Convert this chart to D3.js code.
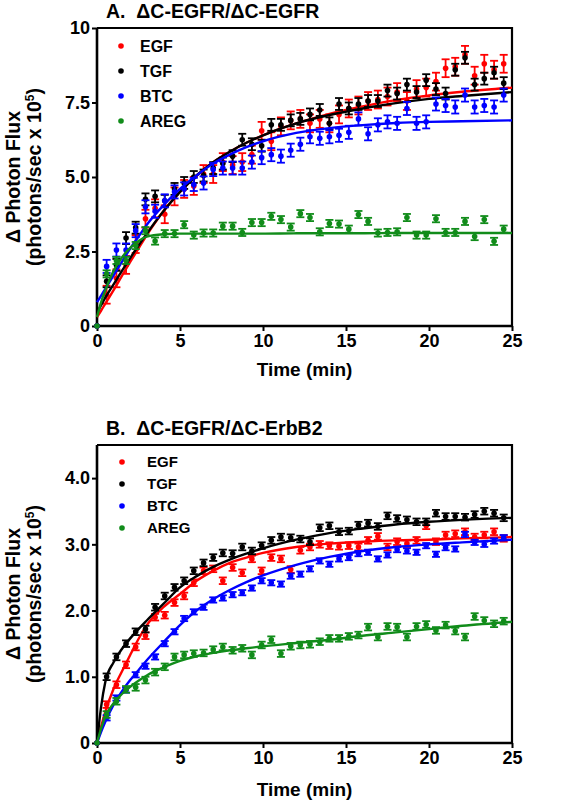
<!DOCTYPE html>
<html><head><meta charset="utf-8">
<script src="https://cdn.jsdelivr.net/npm/d3@7"></script>
<style>
body{margin:0;background:#fff}
text{font-family:"Liberation Sans",Arial,sans-serif;font-weight:bold;fill:#000}
</style>
</head><body><svg id="c" width="566" height="802"></svg>
<script>
// ---------- data ----------
const seriesNames = ["EGF","TGF","BTC","AREG"];
const seriesColors = ["#ff0000","#000000","#0000ff","#118c1a"];
const times = [0,0.58,1.17,1.75,2.33,2.92,3.5,4.08,4.67,5.25,5.83,6.42,7.0,7.58,8.17,8.75,9.33,9.92,10.5,11.08,11.67,12.25,12.83,13.42,14.0,14.58,15.17,15.75,16.33,16.92,17.5,18.08,18.67,19.25,19.83,20.42,21.0,21.58,22.17,22.75,23.33,23.92,24.5];
const xTicks = [0,5,10,15,20,25];
const xTickLabels = ["0","5","10","15","20","25"];

// Panel A
const egfA  = [0,1.05,1.6,2.05,2.75,3.6,3.95,3.75,4.35,4.6,4.7,5.1,5.1,5.5,5.4,5.5,5.75,6.55,6.2,6.7,6.9,6.95,6.8,6.95,6.8,7.1,7.3,7.4,7.55,7.6,7.7,7.85,7.55,7.95,8.0,8.2,8.65,8.7,9.1,8.4,8.8,8.6,8.8];
const tgfA  = [0,1.5,2.05,2.95,3.3,4.25,4.35,4.2,4.6,4.8,5.0,5.05,5.3,5.45,5.7,6.25,6.1,6.05,6.75,6.75,6.9,6.95,7.1,7.25,6.8,7.45,7.3,7.45,7.55,7.55,7.9,7.8,8.1,7.85,8.25,7.95,7.8,8.6,9.0,8.1,8.3,8.5,8.15];
const btcA  = [0,2.0,2.55,2.55,3.2,4.0,3.85,4.2,4.5,4.6,4.75,4.8,5.25,5.3,5.3,5.3,5.5,5.65,5.75,5.7,5.9,6.1,6.35,6.3,6.35,6.4,6.5,6.95,6.45,6.75,6.85,6.8,7.3,6.8,6.85,7.45,7.4,7.35,7.75,7.35,7.4,7.35,7.75];
const aregA = [0,1.75,2.2,2.2,2.7,3.2,2.85,3.1,3.1,3.4,3.05,3.12,3.12,3.35,3.35,3.14,3.47,3.47,3.68,3.57,3.32,3.77,3.64,3.16,3.44,3.42,3.25,3.74,3.51,3.12,3.14,3.16,3.64,3.05,3.05,3.6,3.14,3.14,3.51,3.0,3.57,2.84,3.25];
const errA  = [0.3,0.2,0.22,0.12];
const yTicksA = [0,2.5,5,7.5,10];
const yTickLabelsA = ["0","2.5","5.0","7.5","10"];

// Panel B
const egfB  = [0,0.58,0.88,1.18,1.45,1.62,1.9,1.93,2.12,2.22,2.42,2.6,2.63,2.45,2.65,2.57,2.78,2.6,2.8,2.78,2.62,2.91,2.96,3.0,2.98,2.97,2.98,2.96,3.06,3.12,2.96,3.04,3.01,3.06,3.28,3.04,3.14,3.16,3.19,3.11,3.14,3.19,3.09];
const tgfB  = [0,1.0,1.3,1.5,1.68,1.72,2.05,2.22,2.35,2.45,2.6,2.72,2.8,2.87,2.86,2.96,2.9,2.98,3.06,3.11,3.1,3.08,3.04,3.25,3.28,3.19,3.2,3.29,3.32,3.27,3.43,3.39,3.37,3.34,3.34,3.47,3.42,3.42,3.41,3.45,3.5,3.47,3.4];
const btcB  = [0,0.38,0.68,0.8,1.03,1.16,1.3,1.5,1.68,1.88,1.98,2.05,2.16,2.19,2.24,2.27,2.34,2.45,2.42,2.4,2.52,2.55,2.63,2.75,2.7,2.78,2.8,2.86,2.88,2.78,2.84,2.92,2.9,2.88,2.98,2.85,2.95,2.93,3.15,3.03,3.0,3.05,3.1];
const aregB = [0,0.43,0.63,0.81,0.84,0.95,1.07,1.15,1.3,1.33,1.35,1.36,1.41,1.45,1.4,1.43,1.33,1.48,1.56,1.35,1.46,1.48,1.49,1.53,1.58,1.58,1.61,1.63,1.75,1.6,1.76,1.75,1.6,1.76,1.79,1.7,1.78,1.69,1.6,1.91,1.85,1.8,1.84];
const errB  = [0.05,0.05,0.04,0.05];
const yTicksB = [0,1,2,3,4];
const yTickLabelsB = ["0","1.0","2.0","3.0","4.0"];

// fitted curves
const fitT = [0,0.25,0.5,1,1.5,2,2.5,3,4,5,6,7,8,9,10,12,14,16,18,20,22,25];
const fitEgfA  = [0.3,0.52,0.75,1.2,1.68,2.15,2.6,3.05,3.85,4.5,5.05,5.5,5.85,6.15,6.4,6.8,7.12,7.37,7.58,7.74,7.86,8.0];
const fitTgfA  = [0.45,0.7,0.95,1.4,1.85,2.28,2.7,3.1,3.85,4.5,5.05,5.5,5.85,6.15,6.4,6.8,7.08,7.3,7.48,7.62,7.72,7.85];
const fitBtcA  = [0.8,1.02,1.25,1.7,2.15,2.6,3.0,3.4,4.05,4.6,5.05,5.45,5.75,6.0,6.2,6.48,6.64,6.74,6.81,6.85,6.87,6.9];
const fitAregA = [0.3,0.8,1.2,1.85,2.3,2.62,2.85,3.0,3.08,3.1,3.1,3.1,3.1,3.1,3.1,3.11,3.11,3.11,3.12,3.12,3.12,3.12];
const fitEgfB  = [0,0.25,0.47,0.82,1.08,1.33,1.57,1.78,2.05,2.25,2.45,2.6,2.72,2.8,2.87,2.96,3.01,3.04,3.06,3.07,3.09,3.11];
const fitTgfB  = [0,0.55,0.92,1.22,1.42,1.58,1.72,1.85,2.1,2.35,2.52,2.66,2.77,2.86,2.94,3.07,3.17,3.24,3.3,3.34,3.37,3.4];
const fitBtcB  = [0,0.17,0.32,0.58,0.78,0.95,1.1,1.25,1.52,1.78,2.0,2.17,2.31,2.43,2.53,2.69,2.81,2.9,2.96,3.0,3.03,3.07];
const fitAregB = [0,0.22,0.4,0.6,0.74,0.85,0.94,1.02,1.14,1.24,1.31,1.36,1.4,1.43,1.46,1.51,1.56,1.62,1.67,1.72,1.77,1.83];

// ---------- drawing ----------
const svg = d3.select("#c");
const left = 97, right = 512;

const panels = [
  {title:"A.  ΔC-EGFR/ΔC-EGFR", yMax:10, yTicks:yTicksA, yLabels:yTickLabelsA,
   series:[egfA,tgfA,btcA,aregA], err:errA, fits:[fitEgfA,fitTgfA,fitBtcA,fitAregA],
   top:28, bottom:326, titleY:18, legY:46, legStep:25, legDotX:121, legTextX:140, legFont:16, xLabY:376},
  {title:"B.  ΔC-EGFR/ΔC-ErbB2", yMax:4.5, yTicks:yTicksB, yLabels:yTickLabelsB,
   series:[egfB,tgfB,btcB,aregB], err:errB, fits:[fitEgfB,fitTgfB,fitBtcB,fitAregB],
   top:445, bottom:743, titleY:435, legY:462, legStep:22, legDotX:122, legTextX:147, legFont:15, xLabY:796}
];

panels.forEach(p => {
  const g = svg.append("g");
  const x = d3.scaleLinear().domain([0,25]).range([left,right]);
  const y = d3.scaleLinear().domain([0,p.yMax]).range([p.bottom,p.top]);

  g.append("path")
    .attr("d", `M${left},${p.top}H${right}V${p.bottom}`)
    .attr("fill","none").attr("stroke","#000").attr("stroke-width",2.2);

  const ax = g.append("g").attr("transform",`translate(0,${p.bottom})`)
    .call(d3.axisBottom(x).tickValues(xTicks).tickFormat((d,i)=>xTickLabels[i]).tickSize(5).tickSizeOuter(0).tickPadding(3));
  const ay = g.append("g").attr("transform",`translate(${left},0)`)
    .call(d3.axisLeft(y).tickValues(p.yTicks).tickFormat((d,i)=>p.yLabels[i]).tickSize(5).tickSizeOuter(0).tickPadding(2));
  [ax,ay].forEach(a=>{
    a.select(".domain").attr("stroke-width",2.6).attr("stroke","#000");
    a.selectAll(".tick line").attr("stroke-width",2).attr("stroke","#000");
    a.selectAll(".tick text").style("font-size","18px").style("font-family","'Liberation Sans',Arial,sans-serif").style("font-weight","bold").attr("fill","#000");
  });
  ay.select(".domain").attr("d",`M0,${p.bottom+1}V${p.top}`);
  ax.select(".domain").attr("d",`M${left-1},0H${right}`);

  g.append("text").attr("x",106).attr("y",p.titleY).style("font-size","19.5px")
    .style("white-space","pre").attr("xml:space","preserve").text(p.title);

  g.append("text").attr("x",(left+right)/2).attr("y",p.xLabY).attr("text-anchor","middle")
    .style("font-size","19px").text("Time (min)");
  const cy = (p.top+p.bottom)/2;
  g.append("text").attr("transform",`translate(20,${cy}) rotate(-90)`).attr("text-anchor","middle")
    .style("font-size","19.5px").text("Δ Photon Flux");
  const t2 = g.append("text").attr("transform",`translate(41,${cy}) rotate(-90)`).attr("text-anchor","middle")
    .style("font-size","19.5px");
  t2.append("tspan").text("(photons/sec x 10");
  t2.append("tspan").attr("dy",-7).style("font-size","12px").text("5");
  t2.append("tspan").attr("dy",7).text(")");

  const line = d3.line().x(d=>x(d[0])).y(d=>y(d[1])).curve(d3.curveMonotoneX);
  p.series.forEach((vals,si)=>{
    const col = seriesColors[si];
    const e = p.err[si];
    const sg = g.append("g");
    const pts = times.map((t,i)=>({t, v:vals[i]}));
    const eb = sg.selectAll("g.eb").data(pts.filter(d=>d.t>0)).join("g");
    eb.append("line").attr("x1",d=>x(d.t)).attr("x2",d=>x(d.t))
      .attr("y1",d=>y(d.v-e)).attr("y2",d=>y(d.v+e)).attr("stroke",col).attr("stroke-width",1.8);
    eb.append("line").attr("x1",d=>x(d.t)-4).attr("x2",d=>x(d.t)+4)
      .attr("y1",d=>y(d.v+e)).attr("y2",d=>y(d.v+e)).attr("stroke",col).attr("stroke-width",1.8);
    eb.append("line").attr("x1",d=>x(d.t)-4).attr("x2",d=>x(d.t)+4)
      .attr("y1",d=>y(d.v-e)).attr("y2",d=>y(d.v-e)).attr("stroke",col).attr("stroke-width",1.8);
    sg.selectAll("circle").data(pts).join("circle")
      .attr("cx",d=>x(d.t)).attr("cy",d=>y(d.v)).attr("r",2.8).attr("fill",col);
    sg.append("path").datum(fitT.map((t,i)=>[t,p.fits[si][i]]))
      .attr("d",line).attr("fill","none").attr("stroke",col).attr("stroke-width",2.4);
  });

  seriesNames.forEach((n,i)=>{
    const ly = p.legY + i*p.legStep;
    g.append("circle").attr("cx",p.legDotX).attr("cy",ly).attr("r",2.8).attr("fill",seriesColors[i]);
    g.append("text").attr("x",p.legTextX).attr("y",ly).attr("dy","0.36em")
      .style("font-size",p.legFont+"px").text(n);
  });
});
</script>
</body></html>
